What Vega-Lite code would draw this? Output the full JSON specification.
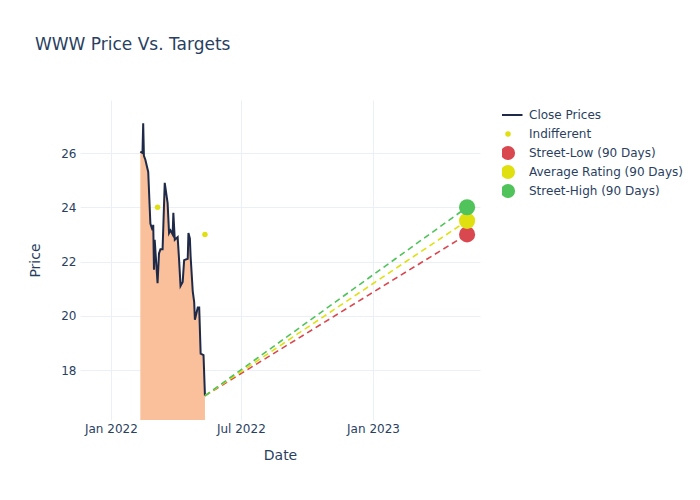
{
  "$schema": "https://vega.github.io/schema/vega-lite/v6.json",
  "width": 400,
  "height": 320,
  "autosize": {"type": "none"},
  "padding": {"left": 80, "top": 100, "right": 220, "bottom": 80},
  "background": "white",
  "title": {
    "text": "WWW Price Vs. Targets",
    "anchor": "start",
    "frame": "group",
    "dx": -45,
    "offset": 46,
    "fontSize": 17,
    "font": "DejaVu Sans",
    "fontWeight": "normal",
    "color": "#2a3f5f"
  },
  "datasets": {
    "close": [
      {"date": "2022-02-11", "price": 26.05, "series": "Close Prices"},
      {"date": "2022-02-14", "price": 26.0, "series": "Close Prices"},
      {"date": "2022-02-15", "price": 27.1, "series": "Close Prices"},
      {"date": "2022-02-16", "price": 25.9, "series": "Close Prices"},
      {"date": "2022-02-18", "price": 25.75, "series": "Close Prices"},
      {"date": "2022-02-22", "price": 25.3, "series": "Close Prices"},
      {"date": "2022-02-25", "price": 23.4, "series": "Close Prices"},
      {"date": "2022-02-28", "price": 23.15, "series": "Close Prices"},
      {"date": "2022-03-01", "price": 23.35, "series": "Close Prices"},
      {"date": "2022-03-02", "price": 21.7, "series": "Close Prices"},
      {"date": "2022-03-03", "price": 22.8, "series": "Close Prices"},
      {"date": "2022-03-07", "price": 21.2, "series": "Close Prices"},
      {"date": "2022-03-09", "price": 22.3, "series": "Close Prices"},
      {"date": "2022-03-11", "price": 22.45, "series": "Close Prices"},
      {"date": "2022-03-14", "price": 22.45, "series": "Close Prices"},
      {"date": "2022-03-17", "price": 24.9, "series": "Close Prices"},
      {"date": "2022-03-21", "price": 24.15, "series": "Close Prices"},
      {"date": "2022-03-23", "price": 23.05, "series": "Close Prices"},
      {"date": "2022-03-25", "price": 23.15, "series": "Close Prices"},
      {"date": "2022-03-28", "price": 23.0, "series": "Close Prices"},
      {"date": "2022-03-29", "price": 23.8, "series": "Close Prices"},
      {"date": "2022-03-31", "price": 22.8, "series": "Close Prices"},
      {"date": "2022-04-04", "price": 22.9, "series": "Close Prices"},
      {"date": "2022-04-06", "price": 22.05, "series": "Close Prices"},
      {"date": "2022-04-08", "price": 21.1, "series": "Close Prices"},
      {"date": "2022-04-11", "price": 21.25, "series": "Close Prices"},
      {"date": "2022-04-13", "price": 22.05, "series": "Close Prices"},
      {"date": "2022-04-18", "price": 22.1, "series": "Close Prices"},
      {"date": "2022-04-19", "price": 23.05, "series": "Close Prices"},
      {"date": "2022-04-21", "price": 22.85, "series": "Close Prices"},
      {"date": "2022-04-22", "price": 22.2, "series": "Close Prices"},
      {"date": "2022-04-25", "price": 20.9, "series": "Close Prices"},
      {"date": "2022-04-27", "price": 20.5, "series": "Close Prices"},
      {"date": "2022-04-28", "price": 19.85, "series": "Close Prices"},
      {"date": "2022-05-02", "price": 20.3, "series": "Close Prices"},
      {"date": "2022-05-04", "price": 20.3, "series": "Close Prices"},
      {"date": "2022-05-06", "price": 18.6, "series": "Close Prices"},
      {"date": "2022-05-10", "price": 18.55, "series": "Close Prices"},
      {"date": "2022-05-12", "price": 17.05, "series": "Close Prices"}
    ],
    "indifferent": [
      {"date": "2022-03-07", "price": 24.0, "series": "Indifferent"},
      {"date": "2022-05-12", "price": 23.0, "series": "Indifferent"}
    ],
    "targetLines": [
      {"date": "2022-05-12", "price": 17.05, "series": "Street-Low (90 Days)", "ord": 1},
      {"date": "2023-05-12", "price": 23.0, "series": "Street-Low (90 Days)", "ord": 1},
      {"date": "2022-05-12", "price": 17.05, "series": "Average Rating (90 Days)", "ord": 2},
      {"date": "2023-05-12", "price": 23.5, "series": "Average Rating (90 Days)", "ord": 2},
      {"date": "2022-05-12", "price": 17.05, "series": "Street-High (90 Days)", "ord": 3},
      {"date": "2023-05-12", "price": 24.0, "series": "Street-High (90 Days)", "ord": 3}
    ],
    "targets": [
      {"date": "2023-05-12", "price": 23.0, "series": "Street-Low (90 Days)", "ord": 1},
      {"date": "2023-05-12", "price": 23.5, "series": "Average Rating (90 Days)", "ord": 2},
      {"date": "2023-05-12", "price": 24.0, "series": "Street-High (90 Days)", "ord": 3}
    ]
  },
  "encoding": {
    "x": {
      "field": "date",
      "type": "temporal",
      "title": "Date",
      "scale": {"domain": ["2021-11-19", "2023-05-30"], "nice": false},
      "axis": {
        "values": [
          {"year": 2022, "month": "jan", "date": 1},
          {"year": 2022, "month": "jul", "date": 1},
          {"year": 2023, "month": "jan", "date": 1}
        ],
        "format": "%b %Y",
        "labelPadding": 3,
        "titlePadding": 14,
        "labelFlush": false
      }
    },
    "y": {
      "field": "price",
      "type": "quantitative",
      "title": "Price",
      "scale": {"domain": [16.157, 27.954], "nice": false, "zero": false},
      "axis": {"values": [18, 20, 22, 24, 26], "labelPadding": 4, "titlePadding": 18}
    }
  },
  "layer": [
    {
      "data": {"name": "close"},
      "mark": {"type": "area", "color": "#fac09b", "opacity": 1, "clip": true}
    },
    {
      "data": {"name": "close"},
      "mark": {"type": "line", "strokeWidth": 2, "clip": true},
      "encoding": {
        "color": {
          "field": "series",
          "type": "nominal",
          "scale": {
            "domain": ["Close Prices", "Indifferent", "Street-Low (90 Days)", "Average Rating (90 Days)", "Street-High (90 Days)"],
            "range": ["#1f2a48", "#e0e010", "#d9474f", "#e0e010", "#50c35a"]
          },
          "legend": {
            "orient": "none",
            "legendX": 422,
            "legendY": 7,
            "padding": 0,
            "title": null,
            "symbolSize": 196,
            "labelOffset": 15,
            "rowPadding": 3,
            "clipHeight": 16,
            "labelFontSize": 12,
            "labelColor": "#2a3f5f",
            "labelFont": "DejaVu Sans",
            "labelLimit": 300,
            "encode": {
              "symbols": {
                "update": {
                  "shape": {"signal": "datum.value === 'Close Prices' ? 'stroke' : 'circle'"},
                  "size": {"signal": "datum.value === 'Close Prices' ? 841 : (datum.value === 'Indifferent' ? 30 : 200)"},
                  "fill": {"signal": "datum.value === 'Close Prices' ? 'transparent' : scale('color', datum.value)"},
                  "stroke": {"signal": "scale('color', datum.value)"},
                  "strokeWidth": {"signal": "datum.value === 'Close Prices' ? 2 : 0"},
                  "opacity": {"value": 1}
                }
              }
            }
          }
        }
      }
    },
    {
      "data": {"name": "targetLines"},
      "mark": {"type": "line", "strokeWidth": 1.6, "strokeDash": [6, 4], "clip": true},
      "encoding": {
        "color": {"field": "series", "type": "nominal"},
        "order": {"field": "ord"}
      }
    },
    {
      "data": {"name": "indifferent"},
      "mark": {"type": "circle", "size": 30, "opacity": 1},
      "encoding": {"color": {"field": "series", "type": "nominal"}}
    },
    {
      "data": {"name": "targets"},
      "mark": {"type": "circle", "size": 260, "opacity": 1},
      "encoding": {
        "color": {"field": "series", "type": "nominal"},
        "order": {"field": "ord"}
      }
    }
  ],
  "resolve": {"scale": {"color": "shared"}},
  "config": {
    "view": {"stroke": null},
    "font": "DejaVu Sans",
    "axis": {
      "gridColor": "#ebf0f8",
      "gridWidth": 1,
      "domain": false,
      "ticks": false,
      "labelColor": "#2a3f5f",
      "titleColor": "#2a3f5f",
      "labelFont": "DejaVu Sans",
      "titleFont": "DejaVu Sans",
      "labelFontSize": 12,
      "titleFontSize": 14,
      "titleFontWeight": "normal"
    }
  }
}
